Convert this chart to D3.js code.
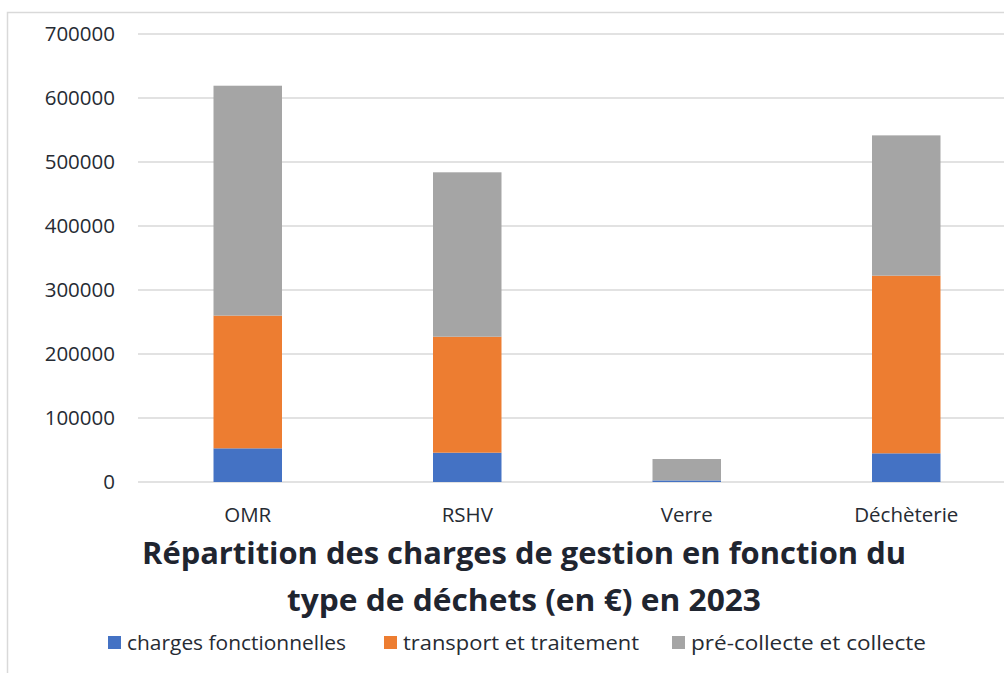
<!DOCTYPE html>
<html><head><meta charset="utf-8">
<script src="https://cdn.jsdelivr.net/npm/d3@7"></script>
<style>body{margin:0;background:#fff;} svg{display:block;}</style>
</head><body>
<svg id="c" width="1004" height="673"></svg>
<script>
const categories = ["OMR", "RSHV", "Verre", "Déchèterie"];
const seriesNames = ["charges fonctionnelles", "transport et traitement", "pré-collecte et collecte"];
const chargesFonctionnelles = [52600, 45800, 2500, 44800];
const transportTraitement = [207400, 181200, 0, 277600];
const precollecteCollecte = [359200, 256900, 33400, 219200];
const yTicks = [0, 100000, 200000, 300000, 400000, 500000, 600000, 700000];
const colors = ["#4472C4", "#ED7D31", "#A5A5A5"];
const titleLines = ["Répartition des charges de gestion en fonction du", "type de déchets (en €) en 2023"];

const svg = d3.select("#c");
const font = "'Open Sans', 'Noto Sans', sans-serif";

// frame (right and bottom edges fall outside the window)
svg.append("rect").attr("x", 7.5).attr("y", 12.5).attr("width", 1100).attr("height", 700)
  .attr("fill", "none").attr("stroke", "#d9d9d9").attr("stroke-width", 1.5);

const x = d3.scaleBand().domain(categories).range([138, 1016]).paddingInner(0.688).paddingOuter(0.344);
const y = d3.scaleLinear().domain([0, 700000]).range([482, 34]);

// gridlines
svg.append("g").selectAll("line").data(yTicks).join("line")
  .attr("x1", 138).attr("x2", 1016)
  .attr("y1", d => y(d)).attr("y2", d => y(d))
  .attr("stroke", "#d9d9d9").attr("stroke-width", 1.5);

// y labels
const yAxis = d3.axisLeft(y).tickValues(yTicks).tickSize(0).tickPadding(0).tickFormat(d3.format("d"));
const ya = svg.append("g").attr("transform", "translate(115,0)").call(yAxis);
ya.select(".domain").remove();
ya.selectAll("text").attr("font-family", font).attr("font-size", 20.5).attr("fill", "#262b33");

// stack
const table = categories.map((c, i) => ({cat: c, s0: chargesFonctionnelles[i], s1: transportTraitement[i], s2: precollecteCollecte[i]}));
const stack = d3.stack().keys(["s0", "s1", "s2"])(table);
svg.append("g").selectAll("g").data(stack).join("g")
  .attr("fill", (d, i) => colors[i])
  .selectAll("rect").data(d => d).join("rect")
  .attr("x", d => x(d.data.cat))
  .attr("width", x.bandwidth())
  .attr("y", d => y(d[1]))
  .attr("height", d => y(d[0]) - y(d[1]));

// x labels
const xAxis = d3.axisBottom(x).tickSize(0).tickPadding(0);
const xa = svg.append("g").attr("transform", "translate(0,515)").call(xAxis);
xa.select(".domain").remove();
xa.selectAll("text").attr("font-family", font).attr("font-size", 20.5).attr("fill", "#262b33").attr("dy", "0.35em");

// title
svg.append("g").selectAll("text").data(titleLines).join("text")
  .attr("x", 524).attr("y", (d, i) => 564 + i * 47)
  .attr("text-anchor", "middle")
  .attr("font-family", font).attr("font-weight", "bold").attr("font-size", 30)
  .attr("fill", "#1f2530")
  .attr("textLength", (d, i) => i === 0 ? 764 : 474).attr("lengthAdjust", "spacingAndGlyphs")
  .text(d => d);

// legend
const legX = [108, 384, 672];
const legW = [219, 236, 235];
const lg = svg.append("g").selectAll("g").data(seriesNames).join("g")
  .attr("transform", (d, i) => `translate(${legX[i]},636)`);
lg.append("rect").attr("width", 13).attr("height", 13).attr("fill", (d, i) => colors[i]);
lg.append("text").attr("x", 19).attr("y", 6.5).attr("dy", "0.35em")
  .attr("font-family", font).attr("font-size", 20).attr("fill", "#262b33")
  .attr("textLength", (d, i) => legW[i]).attr("lengthAdjust", "spacingAndGlyphs")
  .text(d => d);
</script>
</body></html>
